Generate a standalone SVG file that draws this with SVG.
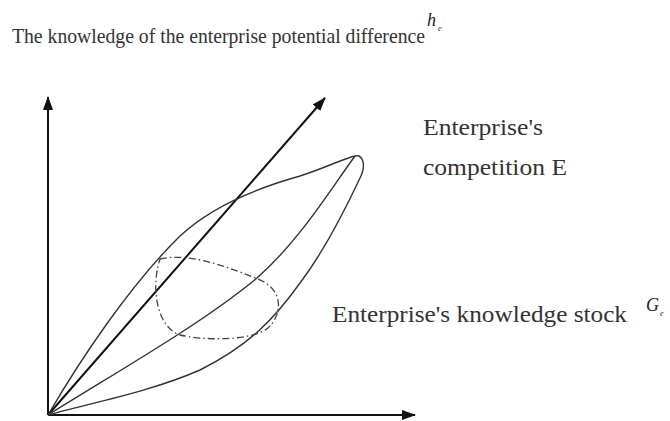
<svg xmlns="http://www.w3.org/2000/svg" width="670" height="421" viewBox="0 0 670 421">
<style>
.t{font-family:"Liberation Serif","Times New Roman",serif;fill:#333;}
.it{font-family:"Liberation Serif","Times New Roman",serif;font-style:italic;fill:#222;}
.axis{stroke:#111;stroke-width:2;fill:none;}
.curve{stroke:#333;stroke-width:1.4;fill:none;}
.dash{stroke:#444;stroke-width:1.3;fill:none;stroke-dasharray:7 3 1.5 3;}
</style>
<defs>
<marker id="ah2" viewBox="0 0 14 10" refX="13" refY="5" markerWidth="14" markerHeight="10" markerUnits="userSpaceOnUse" orient="auto">
<path d="M0,0 L14,5 L0,10 Z" fill="#111"/>
</marker>
</defs>
<g id="title">
<text class="t" x="12" y="43" font-size="21" textLength="413" lengthAdjust="spacingAndGlyphs">The knowledge of the enterprise potential difference</text>
<text class="it" x="427" y="26" font-size="18">h<tspan font-size="8" dx="2" dy="5">e</tspan></text>
</g>
<g id="label-competition">
<text class="t" x="423" y="135" font-size="23" textLength="120" lengthAdjust="spacingAndGlyphs">Enterprise's</text>
<text class="t" x="423" y="175" font-size="23" textLength="144" lengthAdjust="spacingAndGlyphs">competition E</text>
</g>
<g id="label-stock">
<text class="t" x="332" y="322" font-size="23" textLength="295" lengthAdjust="spacingAndGlyphs">Enterprise's knowledge stock</text>
<text class="it" x="646" y="311" font-size="18">G<tspan font-size="8" dx="1" dy="5">e</tspan></text>
</g>
<g id="connectors">
<line class="axis" x1="48" y1="415" x2="48" y2="97" marker-end="url(#ah2)"/>
<line class="axis" x1="48" y1="415" x2="415" y2="415" marker-end="url(#ah2)"/>
<line class="axis" x1="48" y1="415" x2="325" y2="98" stroke-width="1.8" marker-end="url(#ah2)"/>
</g>
<g id="loop">
<path class="curve" d="M48,415 C80,360 130,285 180,236 C210,208 250,190 300,176 C325,168 345,158 355,156 C362,154 367,164 360,178 C345,210 325,250 300,283 C275,318 250,345 200,370 C150,392 90,403 48,415"/>
<path class="curve" d="M48,415 C120,370 200,325 257,278 C300,240 330,190 355,156"/>
</g>
<g id="section">
<path class="dash" d="M160,259 C190,252 230,268 258,279 C285,290 282,315 268,328 C250,342 200,340 180,335 C158,328 150,290 160,259 Z"/>
</g>
</svg>
